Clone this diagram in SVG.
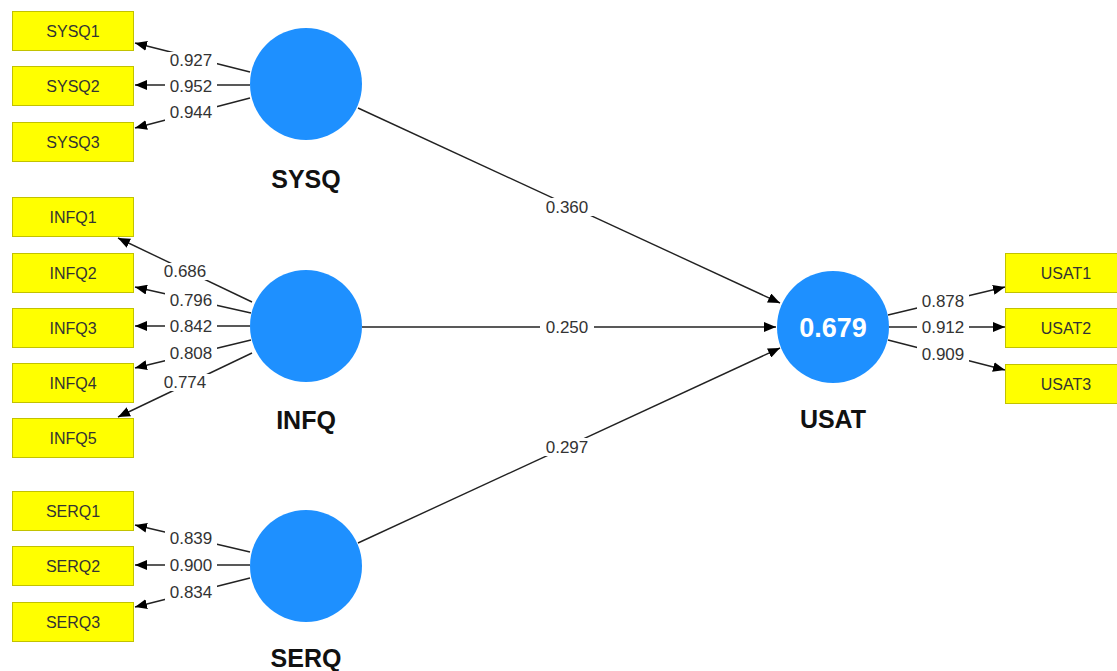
<svg xmlns="http://www.w3.org/2000/svg" width="1117" height="671" viewBox="0 0 1117 671">
<defs>
<marker id="ah" viewBox="0 0 12 10" refX="12" refY="5" markerWidth="12" markerHeight="10" markerUnits="userSpaceOnUse" orient="auto">
<path d="M0,0 L12,5 L0,10 z" fill="#000"/>
</marker>
<style>
.box{fill:#ffff00;stroke:#c2c200;stroke-width:1}
.bt{font-family:"Liberation Sans",Arial,sans-serif;font-size:16px;fill:#333;text-anchor:middle}
.lv{fill:#1e90ff}
.lt{font-family:"Liberation Sans",Arial,sans-serif;font-size:25px;font-weight:bold;fill:#111;text-anchor:middle}
.r2{font-family:"Liberation Sans",Arial,sans-serif;font-size:27px;font-weight:bold;fill:#fff;text-anchor:middle}
.ln{stroke:#222;stroke-width:1.4;fill:none;marker-end:url(#ah)}
.lb{font-family:"Liberation Sans",Arial,sans-serif;font-size:17px;fill:#333;text-anchor:middle}
.bg{fill:#fff}
</style>
</defs>
<rect width="1117" height="671" fill="#fff"/>

<g id="connectors">
<line class="ln" x1="250" y1="72" x2="135" y2="43"/>
<line class="ln" x1="250" y1="85" x2="135" y2="85"/>
<line class="ln" x1="250" y1="98" x2="135" y2="128"/>

<line class="ln" x1="252" y1="302" x2="118" y2="238"/>
<line class="ln" x1="251" y1="313" x2="135" y2="287"/>
<line class="ln" x1="250" y1="326" x2="135" y2="326"/>
<line class="ln" x1="251" y1="340" x2="135" y2="368"/>
<line class="ln" x1="252" y1="353" x2="118" y2="417"/>

<line class="ln" x1="250" y1="552" x2="135" y2="525"/>
<line class="ln" x1="250" y1="565" x2="135" y2="565"/>
<line class="ln" x1="250" y1="578" x2="135" y2="607"/>

<line class="ln" x1="888" y1="315" x2="1005" y2="287"/>
<line class="ln" x1="889" y1="327" x2="1005" y2="327"/>
<line class="ln" x1="888" y1="340" x2="1005" y2="370"/>

<line class="ln" x1="358" y1="108" x2="780" y2="303"/>
<line class="ln" x1="362" y1="327" x2="776" y2="327"/>
<line class="ln" x1="358" y1="543" x2="780" y2="348"/>

<g id="labels">
<rect class="bg" x="165" y="52" width="52" height="17"/><text class="lb" x="191" y="66">0.927</text>
<rect class="bg" x="165" y="78" width="52" height="17"/><text class="lb" x="191" y="92">0.952</text>
<rect class="bg" x="165" y="104" width="52" height="17"/><text class="lb" x="191" y="118">0.944</text>

<rect class="bg" x="159" y="263" width="52" height="17"/><text class="lb" x="185" y="277">0.686</text>
<rect class="bg" x="165" y="292" width="52" height="17"/><text class="lb" x="191" y="306">0.796</text>
<rect class="bg" x="165" y="318" width="52" height="17"/><text class="lb" x="191" y="332">0.842</text>
<rect class="bg" x="165" y="345" width="52" height="17"/><text class="lb" x="191" y="359">0.808</text>
<rect class="bg" x="159" y="374" width="52" height="17"/><text class="lb" x="185" y="388">0.774</text>

<rect class="bg" x="165" y="530" width="52" height="17"/><text class="lb" x="191" y="544">0.839</text>
<rect class="bg" x="165" y="557" width="52" height="17"/><text class="lb" x="191" y="571">0.900</text>
<rect class="bg" x="165" y="584" width="52" height="17"/><text class="lb" x="191" y="598">0.834</text>

<rect class="bg" x="917" y="293" width="52" height="17"/><text class="lb" x="943" y="307">0.878</text>
<rect class="bg" x="917" y="319" width="52" height="17"/><text class="lb" x="943" y="333">0.912</text>
<rect class="bg" x="917" y="346" width="52" height="17"/><text class="lb" x="943" y="360">0.909</text>

<rect class="bg" x="540" y="198" width="54" height="18"/><text class="lb" x="567" y="213">0.360</text>
<rect class="bg" x="540" y="318" width="54" height="18"/><text class="lb" x="567" y="333">0.250</text>
<rect class="bg" x="540" y="438" width="54" height="18"/><text class="lb" x="567" y="453">0.297</text>
</g>
</g>

<g id="SYSQ1"><rect class="box" x="12.5" y="11.5" width="121" height="39"/><text class="bt" x="73" y="37">SYSQ1</text></g>
<g id="SYSQ2"><rect class="box" x="12.5" y="66.5" width="121" height="39"/><text class="bt" x="73" y="92">SYSQ2</text></g>
<g id="SYSQ3"><rect class="box" x="12.5" y="122.5" width="121" height="39"/><text class="bt" x="73" y="148">SYSQ3</text></g>

<g id="INFQ1"><rect class="box" x="12.5" y="197.5" width="121" height="39"/><text class="bt" x="73" y="223">INFQ1</text></g>
<g id="INFQ2"><rect class="box" x="12.5" y="253.5" width="121" height="39"/><text class="bt" x="73" y="279">INFQ2</text></g>
<g id="INFQ3"><rect class="box" x="12.5" y="308.5" width="121" height="39"/><text class="bt" x="73" y="334">INFQ3</text></g>
<g id="INFQ4"><rect class="box" x="12.5" y="363.5" width="121" height="39"/><text class="bt" x="73" y="389">INFQ4</text></g>
<g id="INFQ5"><rect class="box" x="12.5" y="418.5" width="121" height="39"/><text class="bt" x="73" y="444">INFQ5</text></g>

<g id="SERQ1"><rect class="box" x="12.5" y="491.5" width="121" height="39"/><text class="bt" x="73" y="517">SERQ1</text></g>
<g id="SERQ2"><rect class="box" x="12.5" y="546.5" width="121" height="39"/><text class="bt" x="73" y="572">SERQ2</text></g>
<g id="SERQ3"><rect class="box" x="12.5" y="602.5" width="121" height="39"/><text class="bt" x="73" y="628">SERQ3</text></g>

<g id="USAT1"><rect class="box" x="1005.5" y="253.5" width="121" height="39"/><text class="bt" x="1066" y="279">USAT1</text></g>
<g id="USAT2"><rect class="box" x="1005.5" y="308.5" width="121" height="39"/><text class="bt" x="1066" y="334">USAT2</text></g>
<g id="USAT3"><rect class="box" x="1005.5" y="364.5" width="121" height="39"/><text class="bt" x="1066" y="390">USAT3</text></g>

<g id="SYSQ"><circle class="lv" cx="306" cy="84" r="56"/><text class="lt" x="306" y="188">SYSQ</text></g>
<g id="INFQ"><circle class="lv" cx="306" cy="326" r="56"/><text class="lt" x="306" y="429">INFQ</text></g>
<g id="SERQ"><circle class="lv" cx="306" cy="566" r="56"/><text class="lt" x="306" y="667">SERQ</text></g>
<g id="USAT"><circle class="lv" cx="833" cy="327" r="56"/><text class="r2" x="833" y="337">0.679</text><text class="lt" x="833" y="428">USAT</text></g>
</svg>
